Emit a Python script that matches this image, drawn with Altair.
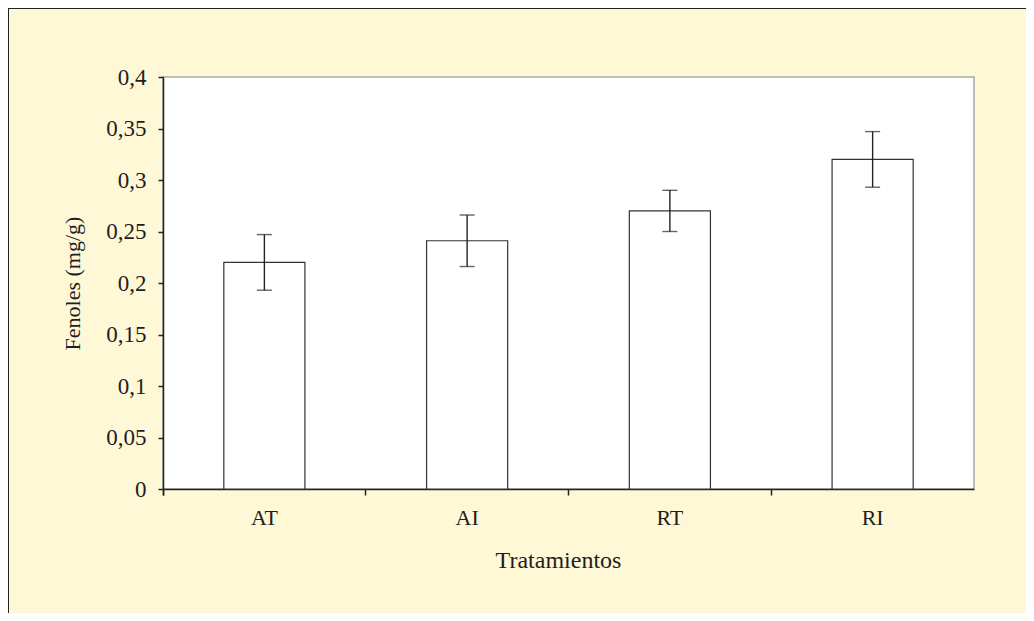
import altair as alt
import pandas as pd

categories = ["AT", "AI", "RT", "RI"]
means = [0.220, 0.241, 0.270, 0.320]
errors = [0.027, 0.025, 0.020, 0.027]
y_ticks = [0, 0.05, 0.1, 0.15, 0.2, 0.25, 0.3, 0.35, 0.4]

df = pd.DataFrame({
    "cat": categories,
    "mean": means,
    "low": [m - e for m, e in zip(means, errors)],
    "high": [m + e for m, e in zip(means, errors)],
})

FONT = "Liberation Serif"
W, H = 811, 412
PL, PT = 155, 69
PR = 1018 - PL - W
PB = 605 - PT - H

x_enc = alt.X(
    "cat:N", sort=categories, title="Tratamientos",
    scale=alt.Scale(paddingInner=0, paddingOuter=0),
    axis=alt.Axis(bandPosition=0, tickExtra=True, labelAngle=0, labelPadding=12,
                  tickSize=6, titlePadding=20, titleFontSize=24, labelFontSize=22,
                  titleX=395, titleAlign="center"),
)
y_enc = alt.Y(
    "mean:Q", title="Fenoles (mg/g)",
    scale=alt.Scale(domain=[0, 0.4], nice=False, zero=True),
    axis=alt.Axis(values=y_ticks, labelExpr="replace(toString(datum.value), '.', ',')",
                  grid=False, tickSize=5, labelPadding=12, titlePadding=21,
                  labelFontSize=23, titleFontSize=22),
)

base = alt.Chart(df)

bars = base.mark_bar(
    width=alt.RelativeBandSize(0.4), fill="white", stroke="#333333", strokeWidth=1.2
).encode(x=x_enc, y=y_enc)

rule = base.mark_rule(color="#222222", strokeWidth=1.4).encode(
    x=alt.X("cat:N", sort=categories), y="low:Q", y2="high:Q"
)
cap_lo = base.mark_tick(size=15, thickness=1.4, color="#222222", orient="horizontal").encode(
    x=alt.X("cat:N", sort=categories), y="low:Q"
)
cap_hi = base.mark_tick(size=15, thickness=1.4, color="#222222", orient="horizontal").encode(
    x=alt.X("cat:N", sort=categories), y="high:Q"
)

border = alt.Chart(pd.DataFrame({"k": [0]})).mark_rect(
    fillOpacity=0, stroke="#222222", strokeWidth=2, clip=False
).encode(
    x=alt.value(-PL + 0), x2=alt.value(W + PR + 20),
    y=alt.value(-PT + 0), y2=alt.value(H + PB + 20),
)

chart = alt.layer(border, bars, rule, cap_lo, cap_hi).properties(
    width=W, height=H,
    autosize=alt.AutoSizeParams(type="none"),
    padding={"left": PL, "top": PT, "right": PR, "bottom": PB},
    background="#FFF8D6",
).configure_view(
    fill="white", stroke="#a8a8a8", strokeWidth=1.5
).configure_axis(
    labelFont=FONT, titleFont=FONT,
    labelColor="#1e1e1e", titleColor="#1e1e1e", titleFontWeight="normal",
    domainColor="#222222", tickColor="#222222", domainWidth=1.5, tickWidth=1.5,
)

chart.save("out.html", embed_options={"renderer": "svg", "actions": False})
